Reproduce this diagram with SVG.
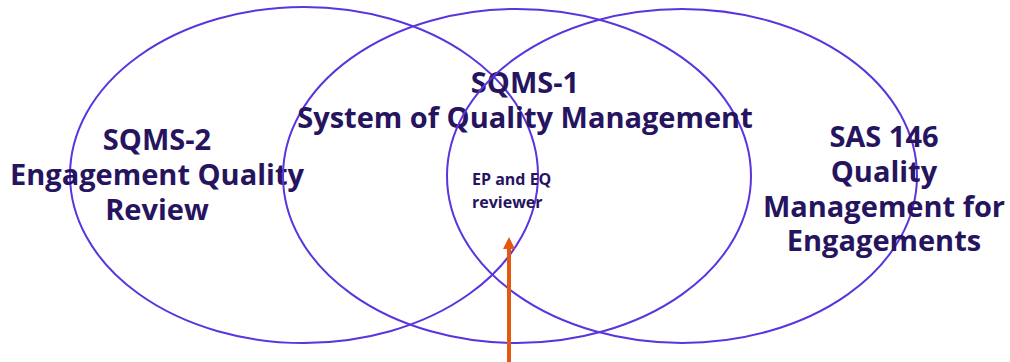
<svg xmlns="http://www.w3.org/2000/svg" width="1010" height="362" viewBox="0 0 1010 362">
  <style>
    .ring { fill: none; stroke: #5a35de; stroke-width: 2; }
    .big { font-family: "Open Sans", "Liberation Sans", sans-serif; font-weight: 700; font-size: 29px; fill: #26145f; text-anchor: middle; }
    .small { font-family: "Open Sans", "Liberation Sans", sans-serif; font-weight: 700; font-size: 16px; fill: #26145f; }
  </style>
  <defs>
    <marker id="head" markerWidth="3" markerHeight="3" refX="0.5" refY="1.5" orient="auto" markerUnits="strokeWidth">
      <path d="M0,0 L3,1.5 L0,3 Z" fill="#e4590f"/>
    </marker>
  </defs>
  <rect width="1010" height="362" fill="#ffffff"/>

  <g id="sqms2">
    <ellipse class="ring" cx="304" cy="175" rx="234" ry="168"/>
    <text class="big" x="157" y="150">SQMS-2<tspan x="157" dy="35">Engagement Quality</tspan><tspan x="157" dy="35">Review</tspan></text>
  </g>

  <g id="sqms1">
    <ellipse class="ring" cx="517" cy="176" rx="234" ry="167"/>
    <text class="big" x="525" y="93">SQMS-1<tspan x="525" dy="35">System of Quality Management</tspan></text>
  </g>

  <g id="sas146">
    <ellipse class="ring" cx="682" cy="176" rx="235" ry="167"/>
    <text class="big" x="884" y="147">SAS 146<tspan x="884" dy="35">Quality</tspan><tspan x="884" dy="35">Management for</tspan><tspan x="884" dy="34">Engagements</tspan></text>
  </g>

  <g id="overlap">
    <text class="small" x="472" y="185">EP and EQ<tspan x="472" dy="23">reviewer</tspan></text>
  </g>

  <g id="connectors">
    <line x1="509" y1="362" x2="509" y2="247" stroke="#e4590f" stroke-width="4" marker-end="url(#head)"/>
  </g>
</svg>
